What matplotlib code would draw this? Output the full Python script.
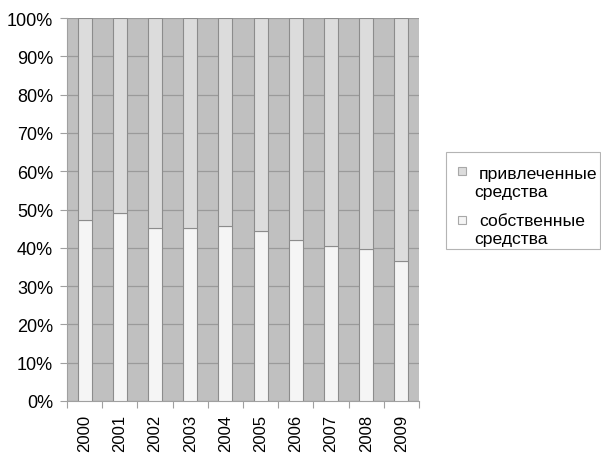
import matplotlib
matplotlib.use("Agg")
import matplotlib.pyplot as plt
import numpy as np
from matplotlib.patches import Rectangle

plt.rcParams['font.family'] = ['Liberation Sans', 'DejaVu Sans']

years = ["2000", "2001", "2002", "2003", "2004", "2005", "2006", "2007", "2008", "2009"]
own_funds = [47.3, 49.2, 45.2, 45.1, 45.6, 44.5, 42.1, 40.6, 39.6, 36.5]
borrowed_funds = [100 - v for v in own_funds]
yticks = [0, 10, 20, 30, 40, 50, 60, 70, 80, 90, 100]
legend_labels = [["привлеченные", "средства"], ["собственные", "средства"]]

W, H = 601, 456
fig = plt.figure(figsize=(W / 100, H / 100), dpi=100)
ax = fig.add_axes([67 / W, 1 - 402 / H, (419 - 67) / W, (402 - 19) / H])

bg = "#c0c0c0"
col_borrowed = "#dcdcdc"
col_own = "#f5f5f5"
edge = "#8c8c8c"

ax.set_facecolor(bg)
x = np.arange(len(years))
ax.bar(x, own_funds, width=0.4, color=col_own, edgecolor=edge, linewidth=0.8, zorder=3)
ax.bar(x, borrowed_funds, width=0.4, bottom=own_funds, color=col_borrowed,
       edgecolor=edge, linewidth=0.8, zorder=3)

ax.set_xlim(-0.5, len(years) - 0.5)
ax.set_ylim(0, 100)
ax.set_yticks(yticks)
ax.set_yticklabels([f"{t}%" for t in yticks], fontsize=13)
ax.yaxis.grid(True, color="#9a9a9a", linewidth=0.9, zorder=1)
ax.set_axisbelow(True)

# tick marks at category boundaries, labels at category centers
ax.set_xticks(np.arange(len(years) + 1) - 0.5)
ax.set_xticklabels([])
ax.set_xticks(x, minor=True)
ax.set_xticklabels(years, minor=True, rotation=90, fontsize=12)
ax.tick_params(axis="x", which="minor", length=0, pad=9)
ax.tick_params(axis="x", which="major", length=5, color="#a0a0a0")
ax.tick_params(axis="y", length=5, color="#a0a0a0", pad=5)

for side in ["top", "right"]:
    ax.spines[side].set_visible(False)
ax.spines["left"].set_color("#a0a0a0")
ax.spines["bottom"].set_color("#a0a0a0")


def px(xp, yp):
    """Pixel coordinates (top-left origin) to figure fraction."""
    return xp / W, 1 - yp / H


# legend box
x0, y0 = px(446, 250)
fig.patches.append(Rectangle((x0, y0), (600 - 446) / W, (250 - 153) / H,
                             transform=fig.transFigure, facecolor="white",
                             edgecolor="#b4b4b4", linewidth=0.8))

legend_colors = [col_borrowed, col_own]
square_bottoms = [176, 225]
line_baselines = [[179.5, 197], [226, 244]]
for lines, color, sb, bases in zip(legend_labels, legend_colors, square_bottoms, line_baselines):
    sx, sy = px(458, sb)
    fig.patches.append(Rectangle((sx, sy), 8 / W, 8 / H, transform=fig.transFigure,
                                 facecolor=color, edgecolor="#a8a8a8", linewidth=0.8))
    for i, (line, b) in enumerate(zip(lines, bases)):
        tx, ty = px(479 if i == 0 else 474, b)
        fig.text(tx, ty, line, fontsize=12.6, va="baseline", ha="left")

fig.savefig("out.png", dpi=100)
